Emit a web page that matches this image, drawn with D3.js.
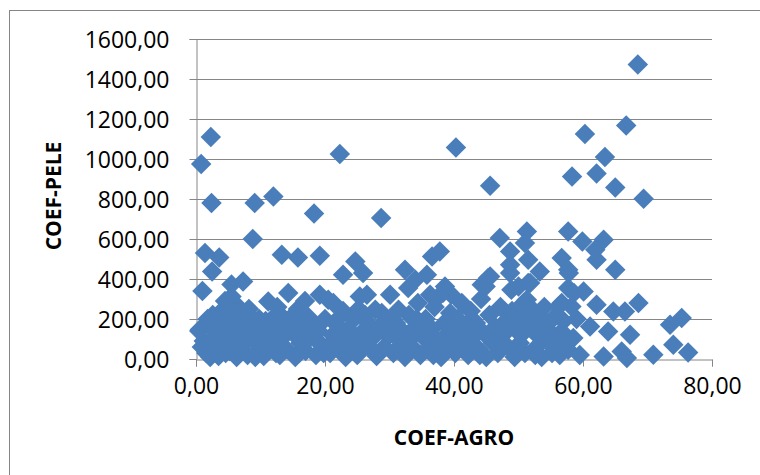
<!DOCTYPE html>
<html>
<head>
<meta charset="utf-8">
<script src="https://cdn.jsdelivr.net/npm/d3@7"></script>
<style>
  body { margin: 0; background: #fff; }
  text { font-family: "Open Sans", sans-serif; fill: #000; }
</style>
</head>
<body>
<div id="chart"></div>
<script>
var svgWidth = 760;
var svgHeight = 475;

// tick values of both axes
var xTicks = [0, 20, 40, 60, 80];
var yTicks = [0, 200, 400, 600, 800, 1000, 1200, 1400, 1600];

// series: [COEF-AGRO, COEF-PELE]
var serie = [
  [2.3,1110],[0.8,975],[22.3,1025],[2.4,780],[9.1,780],[12.0,813],[18.3,727],[8.8,600],
  [1.4,530],[3.6,508],[13.3,521],[15.8,508],[19.2,516],[24.7,488],[22.8,421],[25.9,430],[2.5,438],
  [40.3,1057],[45.6,866],[28.7,705],[47.1,605],[51.3,638],[51.0,580],[48.7,538],[48.7,471],
  [51.5,496],[37.8,538],[36.6,513],[32.4,446],[35.8,421],[34.0,396],
  [68.5,1473],[66.7,1168],[60.3,1125],[63.4,1010],[58.3,912],[62.1,928],[65.0,857],[69.4,801],
  [57.7,638],[59.9,588],[63.2,596],[61.9,546],[62.1,496],[56.7,505],[57.7,446],[65.0,446],[53.3,438],
  // x 0-10
  [0.5,140],[0.6,147],[1.6,30],[1.2,90],[2.0,170],[2.8,60],[3.1,120],[3.5,15],[4.0,200],[4.2,80],
  [4.8,150],[5.2,40],[5.5,230],[6.0,110],[6.3,10],[6.8,180],[7.2,70],[7.6,140],[8.0,20],[8.4,210],
  [8.8,100],[9.3,160],[9.6,45],[10.0,125],[1.0,340],[3.9,238],[6.5,263],[5.5,313],[5.5,372],
  [7.3,388],[4.5,290],[8.2,250],[2.6,220],
  [1.8,200],[0.9,60],[2.2,10],[3.3,180],[4.6,30],[5.0,190],[6.6,60],[7.0,230],[8.6,160],[9.8,200],[9.2,10],
  // x 10-20
  [10.5,15],[10.8,190],[11.2,288],[11.5,80],[12.0,140],[12.4,30],[12.8,230],[13.2,100],[13.6,170],
  [14.0,50],[14.3,330],[14.5,200],[15.0,130],[15.4,10],[15.8,250],[16.2,80],[16.6,160],[17.0,40],
  [17.4,210],[17.8,110],[18.2,170],[18.6,20],[19.0,140],[19.2,321],[19.5,70],[20.0,200],[12.6,260],[16.9,290],
  [11.0,50],[11.8,200],[13.0,20],[13.8,130],[15.2,190],[16.0,30],[17.2,150],[18.8,90],[19.8,30],
  // x 20-30
  [20.5,296],[20.8,30],[21.3,280],[21.2,120],[21.8,170],[22.4,60],[22.8,240],[23.2,10],[23.6,150],
  [24.0,90],[24.5,200],[25.0,20],[25.4,313],[25.6,130],[26.0,60],[26.5,321],[26.7,180],[27.2,100],
  [27.8,246],[28.0,15],[28.4,160],[28.8,230],[29.2,60],[29.6,200],[30.1,321],[30.0,120],[21.0,80],[25.2,250],
  [22.0,200],[23.0,110],[24.4,40],[26.2,220],[27.5,40],[29.0,140],[30.4,200],
  // x 30-40
  [30.6,30],[31.0,180],[31.4,246],[31.6,90],[32.0,140],[32.4,10],[32.9,355],[33.0,220],[33.5,60],
  [34.0,160],[34.4,280],[34.8,20],[35.2,110],[35.6,200],[36.0,50],[36.3,321],[36.6,150],[37.0,260],
  [37.4,90],[37.6,313],[38.0,10],[38.3,331],[38.6,363],[38.5,180],[39.0,60],[39.4,230],[39.6,321],
  [39.8,130],[40.2,30],
  [31.2,50],[33.2,100],[34.2,200],[35.0,160],[36.8,20],[38.2,100],[39.2,180],
  // x 40-50
  [40.6,200],[41.0,80],[41.2,280],[41.4,271],[41.8,150],[42.2,20],[42.6,240],[43.0,110],[43.4,180],
  [43.8,50],[44.2,300],[44.3,371],[44.6,130],[44.9,363],[45.0,10],[45.3,405],[45.6,413],[45.5,220],
  [46.0,80],[46.4,160],[46.8,30],[47.2,260],[47.6,120],[48.0,190],[48.4,60],[48.7,430],[48.9,346],
  [49.0,240],[49.4,10],[49.8,140],
  [40.8,120],[42.0,60],[42.8,200],[44.0,20],[45.8,130],[47.0,70],[48.2,150],[49.5,200],
  // x 50-60
  [50.0,363],[50.2,80],[50.6,200],[50.8,280],[51.0,30],[51.3,296],[51.5,380],[51.8,380],[52.0,150],
  [52.4,240],[52.8,60],[53.1,113],[53.2,180],[53.6,10],[54.0,260],[54.4,90],[54.8,140],[55.2,30],
  [55.6,210],[56.0,70],[56.2,263],[56.7,280],[56.7,138],[57.0,190],[57.7,46],[57.7,355],[57.8,430],
  [58.2,263],[58.5,105],[58.6,330],[59.0,200],[59.5,20],
  [50.4,120],[51.6,180],[52.6,20],[53.8,200],[55.0,100],[56.4,20],[57.4,100],
  // x 60-77
  [60.1,338],[61.1,163],[62.1,271],[63.2,13],[63.9,138],[64.7,238],[66.0,38],[66.5,238],[66.8,5],
  [67.3,121],[68.6,280],[70.9,21],[73.5,171],[74.0,71],[75.3,205],[76.3,33]
];

var chartMargin = { top: 39, right: 48, bottom: 116, left: 196 };
var chartWidth = svgWidth - chartMargin.left - chartMargin.right;
var chartHeight = svgHeight - chartMargin.top - chartMargin.bottom;

var svg = d3.select("#chart")
  .append("svg")
  .attr("width", svgWidth)
  .attr("height", svgHeight);

// chart frame (right and bottom edges fall outside the picture)
svg.append("rect")
  .attr("x", 9.5)
  .attr("y", 10.5)
  .attr("width", 800)
  .attr("height", 500)
  .attr("fill", "none")
  .attr("stroke", "#868686");

var chartGroup = svg.append("g")
  .attr("transform", `translate(${chartMargin.left}, ${chartMargin.top})`);

var xScale = d3.scaleLinear().domain([0, 80]).range([0, chartWidth]);
var yScale = d3.scaleLinear().domain([0, 1600]).range([chartHeight, 0]);

var fmt = d => d3.format(".2f")(d).replace(".", ",");

// horizontal gridlines
chartGroup.append("g")
  .selectAll("line")
  .data(yTicks.slice(1))
  .enter()
  .append("line")
  .attr("x1", 0)
  .attr("x2", chartWidth)
  .attr("y1", d => Math.round(yScale(d)) + 0.5)
  .attr("y2", d => Math.round(yScale(d)) + 0.5)
  .attr("stroke", "#868686")
  .attr("stroke-width", 1);

var leftAxis = d3.axisLeft(yScale).tickValues(yTicks).tickFormat(fmt).tickSize(7).tickPadding(20);
var bottomAxis = d3.axisBottom(xScale).tickValues(xTicks).tickFormat(fmt).tickSize(7).tickPadding(11);

var yAxisG = chartGroup.append("g").attr("transform", "translate(0.5,0)").call(leftAxis);
var xAxisG = chartGroup.append("g").attr("transform", `translate(0,${Math.round(chartHeight) + 0.5})`).call(bottomAxis);

[yAxisG, xAxisG].forEach(function(g) {
  g.select(".domain").attr("stroke", "#868686");
  g.selectAll(".tick line").attr("stroke", "#868686");
  g.selectAll(".tick text")
    .attr("font-family", "'Open Sans', sans-serif")
    .attr("font-size", "23px")
    .attr("fill", "#000");
});
yAxisG.selectAll(".tick text").attr("dy", "0.36em");

// points
var diamond = d3.symbol().type(d3.symbolSquare).size(210);
chartGroup.append("g")
  .selectAll("path")
  .data(serie)
  .enter()
  .append("path")
  .attr("d", diamond)
  .attr("transform", d => `translate(${xScale(d[0])},${yScale(d[1])}) rotate(45)`)
  .attr("fill", "#4A7EBB");

// axis titles
svg.append("text")
  .attr("x", chartMargin.left + chartWidth / 2)
  .attr("y", 445)
  .attr("text-anchor", "middle")
  .attr("font-size", "21px")
  .attr("font-weight", "bold")
  .text("COEF-AGRO");

svg.append("text")
  .attr("transform", "translate(61,196) rotate(-90)")
  .attr("text-anchor", "middle")
  .attr("font-size", "21px")
  .attr("font-weight", "bold")
  .text("COEF-PELE");
</script>
</body>
</html>
